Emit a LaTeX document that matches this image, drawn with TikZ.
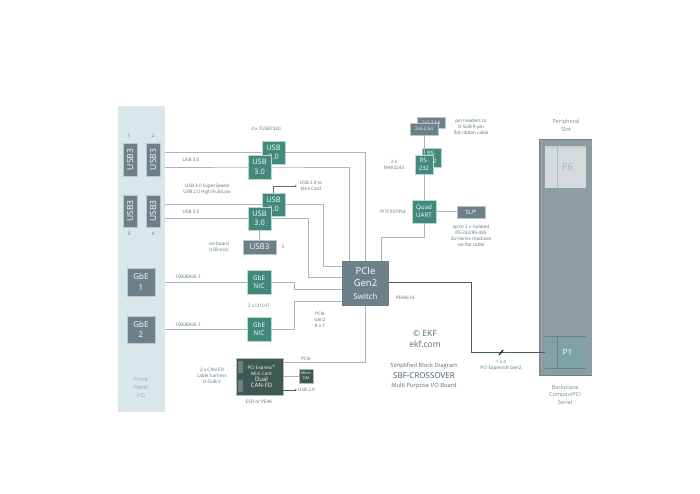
\documentclass[tikz,border=0pt]{standalone}
\usepackage{fontspec}
\setmainfont{Open Sans}
\usetikzlibrary{arrows.meta}
\definecolor{panel}{HTML}{D9E6EA}
\definecolor{teal}{HTML}{40897B}
\definecolor{slate}{HTML}{6B8089}
\definecolor{wire}{HTML}{A4B7BE}
\definecolor{darkwire}{HTML}{3F5E6C}
\definecolor{ink}{HTML}{566E7A}
\definecolor{card}{HTML}{3E5852}
\definecolor{plane}{HTML}{8C9DA3}
\definecolor{planetop}{HTML}{6F8188}
\definecolor{pone}{HTML}{7FA2A9}
\definecolor{psix}{HTML}{D5DADC}
\tikzset{
  base/.style={inner sep=0pt,outer sep=0pt,anchor=center,align=center},
  tealbox/.style={base,fill=teal,draw=teal!35,line width=.6pt,text=white},
  slatebox/.style={base,fill=slate,draw=slate!45,line width=.6pt,text=white},
  lab/.style={base,text=ink,font=\fontsize{4.6}{6}\selectfont},
  wirel/.style={draw=wire,line width=.6pt},
  darkl/.style={draw=darkwire,line width=.9pt},
  mid/.style={font=\fontsize{7.5}{9.5}\selectfont},
}
% name, x0, y0, x1, y1, style, text
\newcommand{\bx}[7]{\node[#6,minimum width={(#4-#2)*1pt},minimum height={(#5-#3)*1pt}] (#1) at ({(#2+#4)/2},{(#3+#5)/2}) {#7};}
\newcommand{\lb}[4]{\node[lab] (#1) at (#2,#3) {#4};}
\begin{document}
\begin{tikzpicture}[x=1pt,y=-1pt,line cap=butt]
\useasboundingbox (0,0) rectangle (700,494);
\fill[white] (0,0) rectangle (700,494);
% panels
\bx{fp}{118}{106}{165}{412}{base,fill=panel}{}
\bx{bp}{539}{139}{592}{375}{base,fill=plane}{}
\fill[planetop] (bp.north west) rectangle ([yshift=-1.2pt]bp.north east);
\draw[planetop,line width=.8pt] (bp.north west) -- (bp.south west) -- (bp.south east);
\bx{psixn}{545}{146}{586}{188}{base,fill=psix,text=plane!70!psix,font=\fontsize{9.5}{12}\selectfont}{\hspace*{4pt}P6}
\fill[psix!80!plane] (psixn.north west) rectangle ([yshift=-2pt]psixn.north east);
\draw[plane!50!psix,line width=.4pt] ([xshift=12pt]psixn.north west) -- ([xshift=12pt]psixn.south west);
\bx{pone}{545}{336}{586}{369}{base,fill=pone,text=white,font=\fontsize{8.5}{11}\selectfont}{\hspace*{4pt}P1}
\fill[planetop] (pone.north west) rectangle ([yshift=-1.2pt]pone.north east);
\fill[planetop] (pone.south west) rectangle ([yshift=1.2pt]pone.south east);
\draw[planetop,line width=.4pt] ([xshift=12pt]pone.north west) -- ([xshift=12pt]pone.south west);
% front ports
\bx{pa}{123}{143}{137}{176}{slatebox,font=\fontsize{8.5}{9}\selectfont}{\rotatebox{90}{USB3}}
\bx{pb}{146}{143}{160}{176}{slatebox,font=\fontsize{8.5}{9}\selectfont}{\rotatebox{90}{USB3}}
\bx{pc}{123}{195}{137}{227}{slatebox,font=\fontsize{8.5}{9}\selectfont}{\rotatebox{90}{USB3}}
\bx{pd}{146}{195}{160}{227}{slatebox,font=\fontsize{8.5}{9}\selectfont}{\rotatebox{90}{USB3}}
\bx{ga}{127}{268}{155}{296}{slatebox,font=\fontsize{8}{10.5}\selectfont}{GbE\\1}
\bx{gb}{127}{316}{155}{343}{slatebox,font=\fontsize{8}{10.5}\selectfont}{GbE\\2}
% boxes wires attach to
\bx{sw}{342}{261}{389}{306}{slatebox,draw=none,font=\fontsize{9.5}{12.5}\selectfont}{PCIe\\Gen2\\{\fontsize{8}{10}\selectfont Switch}}
\bx{ub}{262}{141}{285}{164}{tealbox,mid}{USB\\3.0}
\bx{uc}{262}{193}{285}{216}{tealbox,mid}{USB\\3.0}
\bx{na}{247}{270}{271}{294}{tealbox,font=\fontsize{6.5}{8.5}\selectfont}{GbE\\NIC}
\bx{nb}{247}{317}{271}{341}{tealbox,font=\fontsize{6.5}{8.5}\selectfont}{GbE\\NIC}
\coordinate (ua) at (259.5,167);
\coordinate (ud) at (259.5,218.5);
\coordinate (ce) at (323,266);
\coordinate (cf) at (308,277);
\coordinate (cg) at (294,289);
\coordinate (ch) at (294,301);
% wires behind
\draw[wirel] (fp.east |- ub.west) -- (ub.west);
\draw[wirel] (ub.east) -| (sw.north);
\draw[wirel] (fp.east |- ua) -- (ua) -| ([xshift=-16pt]sw.north);
\draw[wirel] (fp.east |- uc.west) -- (uc.west);
\draw[wirel] (uc.east) -| (ce) -- (ce -| sw.west);
\draw[wirel] (fp.east |- ud) -- (ud) -| (cf) -- (cf -| sw.west);
\draw[wirel] (fp.east |- na.west) -- (na.west);
\draw[wirel] (na.east) -| (cg) -- (cg -| sw.west);
\draw[wirel] (fp.east |- nb.west) -- (nb.west);
\draw[wirel] (nb.east) -| (ch) -- (ch -| sw.west);
% front USB boxes
\bx{uafront}{248}{155}{271}{179}{tealbox,mid}{USB\\3.0}
\bx{udfront}{248}{207}{271}{230}{tealbox,mid}{USB\\3.0}
\bx{sk}{243}{240}{276}{254}{slatebox,font=\fontsize{8}{10}\selectfont}{USB3}
\draw[wirel] (udfront.south) -- (sk.north -| udfront.south);
\coordinate (mc) at (297,186);
\draw[line width=.5pt,draw=darkwire!80!wire,-{Latex[length=2pt,width=2pt]}] ([xshift=-11.5pt]uc.north east) |- (mc);
% CAN card
\bx{cd}{236}{358}{283}{395}{base,fill=card,draw=card!40,line width=.5pt}{}
\bx{sla}{238}{361}{243}{373}{base,fill=slate}{}
\bx{slb}{238}{380}{243}{392}{base,fill=slate}{}
\node[base,text=white,font=\fontsize{4.6}{6.2}\selectfont] (cdt) at (261.5,376.5) {PCI Express\textsuperscript{®}\\Mini Card\\{\fontsize{6}{6.8}\selectfont Dual}\\{\fontsize{6}{6.8}\selectfont CAN-FD}};
\bx{sim}{299}{369}{313}{383}{base,fill=card,draw=card!40,line width=.5pt,text=white,font=\fontsize{3.8}{4.8}\selectfont}{Micro\\SIM}
\draw[wirel] (sim.west) -- (cd.east |- sim.west);
\coordinate (ci) at (365.5,362);
\draw[wirel] (sw.south) -- (ci) -- (ci -| cd.east);
\coordinate (ua2) at (297,390);
\draw[draw=darkwire,line width=.5pt,-{Latex[length=2pt,width=2pt]}] (ua2 -| cd.east) -- (ua2);
% main link
\coordinate (cj) at (389,282);
\coordinate (ck) at (471,352);
\draw[darkl] (cj) -| (ck) -- (ck -| pone.west);
\coordinate (sa) at (499,355);
\coordinate (sc) at (503,350);
\draw[black,line width=1pt] (sa) -- (sc);
% right side
\bx{hb}{417}{117}{445}{128}{slatebox,font=\fontsize{4.6}{6}\selectfont}{2x5 2.54}
\bx{ha}{410}{123}{438}{135}{slatebox,font=\fontsize{4.6}{6}\selectfont}{2x5 2.54}
\bx{rb}{422}{148}{441}{167}{tealbox,font=\fontsize{6}{8}\selectfont}{RS-\\232}
\bx{ra}{415}{155}{433}{174}{tealbox,font=\fontsize{6}{8}\selectfont}{RS-\\232}
\bx{qu}{412}{200}{436}{223}{tealbox,font=\fontsize{6.2}{8.2}\selectfont}{Quad\\UART}
\bx{su}{457}{206}{485}{218}{slatebox,font=\fontsize{6}{8}\selectfont}{SU*}
\draw[wirel] (ha.south) -- (ra.north);
\draw[wirel] (ra.south) -- (ra.south |- qu.north);
\draw[wirel] (qu.east) -- (su.west |- qu.east);
\coordinate (cl) at (381,237);
\draw[wirel] (qu.south) |- (cl) -- (cl |- sw.north);
% labels
\lb{la}{129}{136}{1}\lb{lbb}{153}{136}{2}\lb{lc}{129}{234}{3}\lb{ld}{153}{234}{4}
\lb{le}{191}{160}{USB 3.0}\lb{lf}{191}{212}{USB 3.0}
\lb{lg}{207}{189}{USB 3.0 SuperSpeed\\USB 2.0 High/Full/Low}
\lb{lh}{266}{129}{4 x TUSB7320}
\lb{li}{311}{186}{USB 2.0 to\\Mini Card}
\lb{lj}{219}{247}{on-board\\USB stick}
\lb{lk}{283}{247}{5}
\lb{ll}{188}{277}{1000BASE-T}\lb{lm}{188}{325}{1000BASE-T}
\lb{ln}{259}{306}{2 x I210-IT}
\lb{lo}{320}{320}{PCIe\\Gen2\\8 x 1}
\lb{lp}{306}{359}{PCIe}
\lb{lq}{212}{376}{2 x CAN-FD\\cable harness\\D-SUB 9}
\lb{lr}{259}{402}{ESD or PEAK}
\lb{ls}{306.5}{390}{USB 2.0}
\lb{lt}{405}{298}{PEX8614}
\node[lab,font=\fontsize{8.5}{11.5}\selectfont] (lu) at (425,339) {© EKF\\ekf.com};
\lb{lv}{424}{366}{{\fontsize{5.8}{6}\selectfont Simplified Block Diagram}}
\node[lab,text=darkwire,font=\fontsize{8}{10}\selectfont] (lw) at (424,376) {SBF-CROSSOVER};
\lb{lx}{424}{386}{{\fontsize{5.8}{6}\selectfont Multi Purpose I/O Board}}
\lb{ly}{501}{365.5}{1 x 4\\PCI Express® Gen2}
\node[lab,font=\fontsize{5.6}{7.6}\selectfont,text=ink!80] (lz) at (565,394.5) {Backplane\\CompactPCI\\Serial};
\node[lab,font=\fontsize{5.6}{8}\selectfont,text=ink!80] (ma) at (566,125) {Peripheral\\Slot};
\node[lab,font=\fontsize{5.6}{8}\selectfont,text=ink!60] (mb) at (141,388) {Front\\Panel\\I/O};
\lb{mcc}{471}{127}{pin headers to\\D-SUB 9-pin\\flat ribbon cable}
\lb{md}{394}{165}{2 x\\MAX3243}
\lb{me}{393}{212}{PI7C9X7954}
\lb{mf}{471}{235.5}{up to 2 x isolated\\RS-232/RS-485\\SU-Series modules\\via flat cable}
\end{tikzpicture}
\end{document}
